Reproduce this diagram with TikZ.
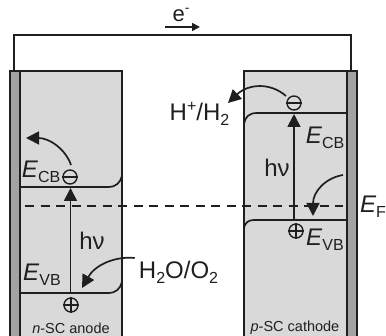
\documentclass[tikz,border=0pt]{standalone}
\usepackage{fontspec}
\setmainfont{Liberation Sans}
\usetikzlibrary{arrows.meta}
\definecolor{semi}{HTML}{D9D9D9}
\definecolor{metal}{HTML}{A3A3A3}
\definecolor{ink}{HTML}{1F1F1F}
\tikzset{
  line/.style={draw=ink,line width=1.7pt},
  tipped/.style={line,-{Triangle[length=13pt,width=13pt]}},
  lab/.style={inner sep=0pt,text=ink,font=\fontsize{24}{24}\selectfont},
  small/.style={inner sep=0pt,text=ink,font=\fontsize{14.5}{15}\selectfont},
  charge/.style={circle,draw=ink,line width=1.4pt,minimum size=14pt,inner sep=0pt},
}
\newcommand{\elab}[2]{\textit{E}\raisebox{-0.22em}{\fontsize{16}{16}\selectfont #2}}
\begin{document}
\begin{tikzpicture}[x=1pt,y=-1pt]
\useasboundingbox (0,0) rectangle (386,336);
% semiconductor bodies
\fill[semi] (10,71) rectangle (122,336);
\fill[semi] (244,71) rectangle (357,336);
\fill[metal] (10,71) rectangle (20,336);
\fill[metal] (347,71) rectangle (357,336);
\draw[line] (10,336) -- (10,71) -- (122,71) -- (122,336);
\draw[line] (20,71) -- (20,336);
\draw[line] (244,336) -- (244,71) -- (357,71) -- (357,336);
\draw[line] (347,71) -- (347,336);
% external wire
\coordinate (wl) at (14,71);
\coordinate (wr) at (351,71);
\draw[line] (wl) -- (14,35) -- (351,35) -- (wr);
\coordinate (ea) at (165,27);
\coordinate (eb) at (200,27);
\draw[line,-{Triangle[length=8pt,width=8pt]}] (ea) -- (eb);
\node[lab,font=\fontsize{22}{22}\selectfont] (eminus) at (181,15) {e\raisebox{0.45em}{\fontsize{14}{14}\selectfont -}};
% bands, left
\draw[line] (20,187) -- (108,187) .. controls (116,187) and (120,183) .. (122,176);
\draw[line] (20,293) -- (108,293) .. controls (116,293) and (120,289) .. (122,282);
% bands, right
\draw[line] (244,124) .. controls (245,117) and (249,113) .. (257,113) -- (347,113);
\draw[line] (244,228) .. controls (245,223) and (248,220) .. (254,220) -- (347,220);
% Fermi level
\coordinate (fa) at (25,206);
\coordinate (fb) at (343,206);
\draw[line,dash pattern=on 9pt off 6.5pt] (fa) -- (fb);
% charges
\node[charge] (nm) at (70,177) {};
\draw[line] (nm.west) -- (nm.east);
\node[charge] (np) at (71,305) {};
\draw[line] (np.west) -- (np.east) (np.north) -- (np.south);
\node[charge] (pm) at (294,103) {};
\draw[line] (pm.west) -- (pm.east);
\node[charge] (pp) at (296,231) {};
\draw[line] (pp.west) -- (pp.east) (pp.north) -- (pp.south);
% excitation arrows
\coordinate (la) at (70.5,293);
\coordinate (lb) at (70.5,188);
\draw[tipped] (la) -- (lb);
\coordinate (ra) at (294,220);
\coordinate (rb) at (294,114);
\draw[tipped] (ra) -- (rb);
% curved arrows
\coordinate (c1a) at (71,165);
\coordinate (c1b) at (26,138);
\draw[tipped] (c1a) .. controls (66,150) and (50,138) .. (c1b);
\node[lab] (hw) at (178.5,272) {H\raisebox{-0.22em}{\fontsize{16}{16}\selectfont 2}O/O\raisebox{-0.22em}{\fontsize{16}{16}\selectfont 2}};
\coordinate (c2b) at (82,288);
\draw[tipped] (hw.west) ++(-4,-14) .. controls (115,256) and (95,265) .. (c2b);
\node[lab] (hh) at (199.5,114) {H\raisebox{0.38em}{\fontsize{16}{16}\selectfont +}/H\raisebox{-0.22em}{\fontsize{16}{16}\selectfont 2}};
\coordinate (c3a) at (286,96);
\coordinate (c3b) at (228,103);
\draw[tipped] (c3a) .. controls (270,82) and (248,84) .. (c3b);
\coordinate (c4a) at (343,175);
\coordinate (c4b) at (313,216);
\draw[tipped] (c4a) .. controls (325,178) and (313,192) .. (c4b);
% labels
\node[lab] (ecl) at (41,172) {\elab{E}{CB}};
\node[lab] (evl) at (42,275) {\elab{E}{VB}};
\node[lab] (hvl) at (92,241) {hν};
\node[lab] (ecr) at (325,138) {\elab{E}{CB}};
\node[lab] (hvr) at (277,168) {hν};
\node[lab] (evr) at (325,240) {\elab{E}{VB}};
\node[lab] (ef) at (373,207) {\elab{E}{F}};
\node[small] (an) at (71,328) {\textit{n}-SC anode};
\node[small] (ca) at (295,328) {\textit{p}-SC cathode};
\end{tikzpicture}
\end{document}
